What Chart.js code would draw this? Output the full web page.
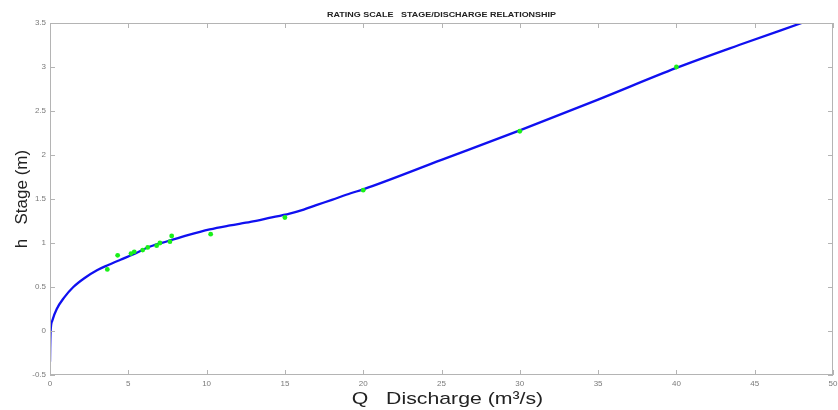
<!DOCTYPE html>
<html>
<head>
<meta charset="utf-8">
<script src="https://cdn.jsdelivr.net/npm/chart.js@4/dist/chart.umd.min.js"></script>
<style>
  body { margin: 0; background: #fff; }
</style>
</head>
<body>
<canvas id="ratingChart" width="838" height="410"></canvas>
<script>
// DATA
const gaugeQ = [3.66, 4.32, 5.17, 5.38, 5.92, 6.24, 6.81, 7.02, 7.66, 7.77, 10.26, 15.0, 20.0, 30.0, 40.0];
const gaugeH = [0.70, 0.86, 0.88, 0.90, 0.92, 0.95, 0.97, 1.00, 1.015, 1.08, 1.10, 1.29, 1.60, 2.27, 3.00];

const curveQ = [0, 0.01, 0.04, 0.15, 0.43, 0.9, 1.49, 2.19, 3.0, 3.72, 4.5, 5.3, 6.4, 7.5, 8.8, 10.2, 11.5, 12.8, 14.0, 15.3, 16.2, 17.0, 18.0, 19.2, 20, 25, 30, 35, 40, 44, 48];
const curveH = [-0.35, -0.2, 0, 0.12, 0.25, 0.38, 0.5, 0.6, 0.69, 0.75, 0.81, 0.87, 0.96, 1.02, 1.09, 1.155, 1.2, 1.24, 1.285, 1.335, 1.38, 1.43, 1.49, 1.565, 1.61, 1.945, 2.28, 2.63, 2.99, 3.25, 3.5];

const xTicks = [0, 5, 10, 15, 20, 25, 30, 35, 40, 45, 50];
const yTicks = [-0.5, 0, 0.5, 1, 1.5, 2, 2.5, 3, 3.5];

const chartTitle = 'RATING SCALE   STAGE/DISCHARGE RELATIONSHIP';
const xTitle = 'Q   Discharge (m³/s)';

const toPoints = (xs, ys) => xs.map((x, i) => ({ x: x, y: ys[i] }));

// MATLAB style box with inward ticks, plus the (slightly stretched) titles
const boxTicks = {
    id: 'boxTicks',
    afterDraw(chart) {
        const c = chart.ctx;
        const a = chart.chartArea;
        const xs = chart.scales.x;
        const ys = chart.scales.y;
        const len = 5;
        c.save();
        c.strokeStyle = '#b4b4b4';
        c.lineWidth = 1;
        c.strokeRect(a.left + 0.5, a.top + 0.5, a.right - a.left - 1, a.bottom - a.top - 1);
        c.beginPath();
        xTicks.forEach(v => {
            const px = Math.round(xs.getPixelForValue(v)) + 0.5;
            c.moveTo(px, a.bottom); c.lineTo(px, a.bottom - len);
            c.moveTo(px, a.top); c.lineTo(px, a.top + len);
        });
        yTicks.forEach(v => {
            const py = Math.round(ys.getPixelForValue(v)) + 0.5;
            c.moveTo(a.left, py); c.lineTo(a.left + len, py);
            c.moveTo(a.right, py); c.lineTo(a.right - len, py);
        });
        c.stroke();

        const mid = (a.left + a.right) / 2;
        c.fillStyle = '#222';
        c.textAlign = 'center';
        c.textBaseline = 'middle';

        c.save();
        c.translate(mid, 15);
        c.scale(1.12, 1);
        c.font = 'bold 8px "Liberation Sans"';
        c.fillText(chartTitle, 0, 0);
        c.restore();

        c.save();
        c.translate(mid + 6, 399);
        c.scale(1.25, 1);
        c.font = '17px "Liberation Sans"';
        c.fillText(xTitle, 0, 0);
        c.restore();

        c.restore();
    }
};

const ctx = document.getElementById('ratingChart').getContext('2d');

const ratingChart = new Chart(ctx, {
    type: 'scatter',
    data: {
        datasets: [{
            label: 'Measured',
            data: toPoints(gaugeQ, gaugeH),
            backgroundColor: '#19f019',
            borderColor: '#19f019',
            pointRadius: 2.4,
            pointBorderWidth: 0,
            showLine: false,
        },
        {
            label: 'Rating curve',
            data: toPoints(curveQ, curveH),
            borderColor: '#1010f0',
            borderWidth: 2.3,
            pointRadius: 0,
            showLine: true,
            fill: false,
            cubicInterpolationMode: 'monotone',
        }]
    },
    options: {
        responsive: false,
        animation: false,
        layout: {
            padding: { top: 23, right: 0, left: 0, bottom: 0 }
        },
        scales: {
            x: {
                type: 'linear',
                min: 0,
                max: 50,
                afterBuildTicks: s => { s.ticks = xTicks.map(v => ({ value: v })); },
                afterFit: s => { s.height = 35; s.paddingRight = 5; },
                grid: { display: false, drawTicks: false },
                border: { display: false },
                ticks: {
                    color: '#7a7a7a',
                    padding: 4,
                    maxRotation: 0,
                    font: { family: 'Liberation Sans', size: 8 },
                },
            },
            y: {
                type: 'linear',
                min: -0.5,
                max: 3.5,
                afterBuildTicks: s => { s.ticks = yTicks.map(v => ({ value: v })); },
                afterFit: s => { s.width = 50; },
                grid: { display: false, drawTicks: false },
                border: { display: false },
                ticks: {
                    color: '#7a7a7a',
                    padding: 4,
                    font: { family: 'Liberation Sans', size: 8 },
                    callback: v => String(v),
                },
                title: {
                    display: true,
                    text: 'h   Stage (m)',
                    color: '#222',
                    padding: { top: 12, bottom: 0 },
                    font: { family: 'Liberation Sans', size: 17 },
                },
            },
        },
        plugins: {
            legend: { display: false },
            tooltip: { enabled: false },
            title: { display: false },
        }
    },
    plugins: [boxTicks]
});
</script>
</body>
</html>
